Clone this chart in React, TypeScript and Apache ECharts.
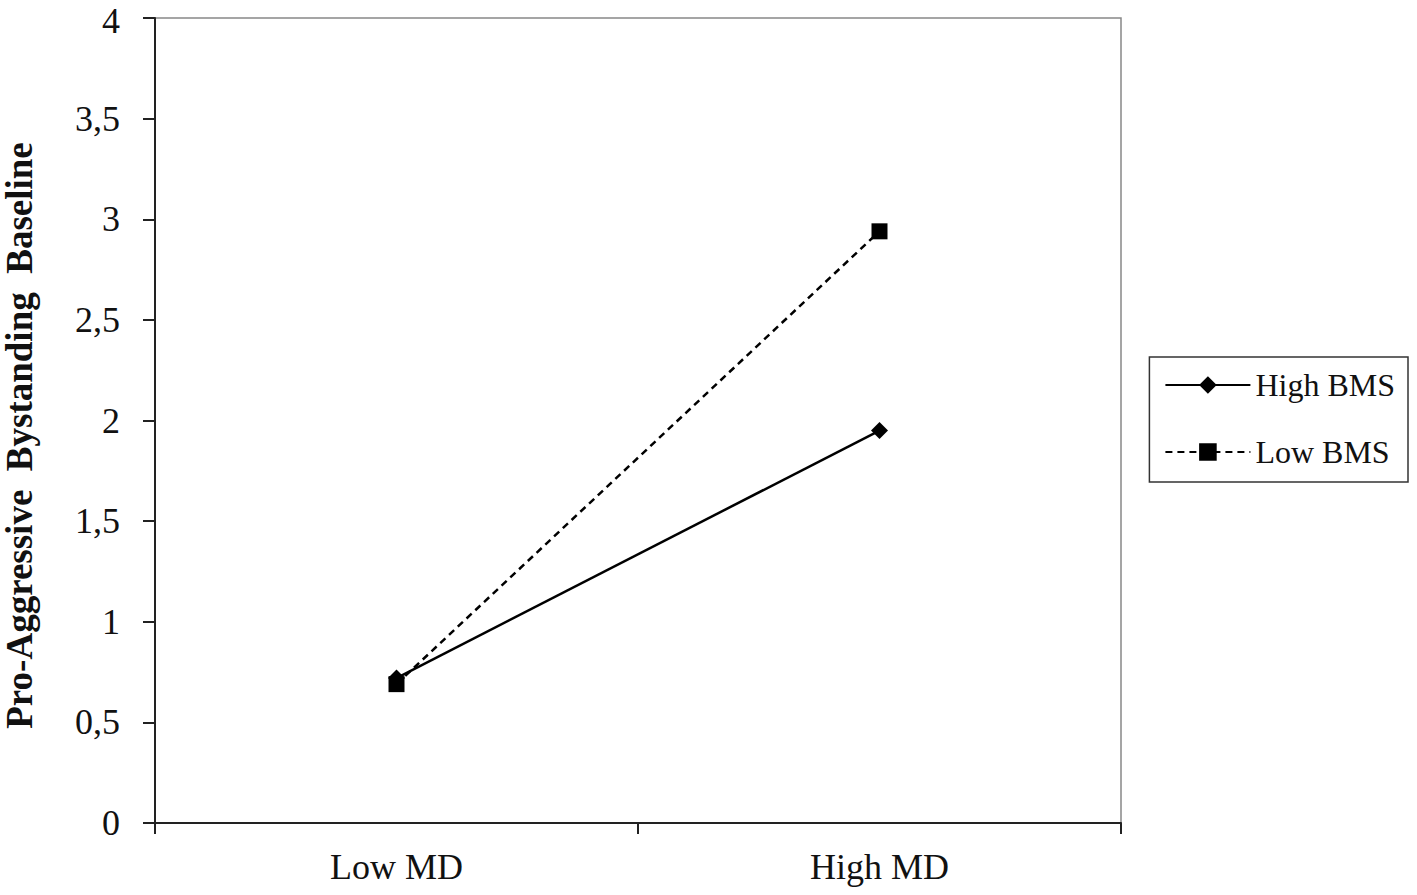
import React, { useEffect, useRef } from "react";
import * as echarts from "echarts";

const categories = ["Low MD", "High MD"];
const highBMS = [0.72, 1.95];
const lowBMS = [0.69, 2.94];
const yTicks = { min: 0, max: 4, interval: 0.5 };

export default function App() {
  const ref = useRef<HTMLDivElement>(null);
  useEffect(() => {
    document.body.style.margin = "0";
    const chart = echarts.init(ref.current!, undefined, { renderer: "svg" });
    const font = "'Liberation Serif', 'Times New Roman', serif";
    chart.setOption({
      animation: false,
      backgroundColor: "#fff",
      textStyle: { fontFamily: font },
      grid: {
        left: 155,
        right: 296,
        top: 18,
        bottom: 72,
        containLabel: false,
        outerBoundsMode: "none",
        show: true,
        borderColor: "#888",
        borderWidth: 1.5,
        backgroundColor: "transparent",
      },
      legend: {
        orient: "vertical",
        right: 9,
        top: 357,
        padding: [12, 13, 14, 15],
        borderColor: "#333",
        borderWidth: 1.5,
        itemWidth: 85,
        itemHeight: 22,
        itemGap: 35,
        textStyle: { fontSize: 32, fontFamily: font, color: "#111" },
        data: ["High BMS", "Low BMS"],
      },
      xAxis: {
        type: "category",
        data: categories,
        boundaryGap: true,
        axisLine: { lineStyle: { color: "#222", width: 2 } },
        axisTick: { show: true, length: 11, lineStyle: { color: "#222", width: 2 } },
        axisLabel: { fontSize: 36, color: "#111", margin: 26, fontFamily: font },
        splitLine: { show: false },
      },
      yAxis: {
        type: "value",
        min: yTicks.min,
        max: yTicks.max,
        interval: yTicks.interval,
        name: "Pro-Aggressive  Bystanding  Baseline",
        nameLocation: "middle",
        nameGap: 117,
        nameRotate: 90,
        nameTextStyle: {
          fontSize: 37,
          fontWeight: "bold",
          color: "#111",
          fontFamily: font,
          padding: [0, 30, 0, 0],
        },
        axisLine: { show: true, lineStyle: { color: "#222", width: 2 } },
        axisTick: { show: true, length: 12, lineStyle: { color: "#222", width: 2 } },
        axisLabel: {
          fontSize: 36,
          lineHeight: 30,
          color: "#111",
          margin: 35,
          fontFamily: font,
          formatter: (v: number) => {
            const s = String(v).replace(".", ",");
            return v === yTicks.max ? "{t|" + s + "}" : s;
          },
          rich: {
            t: { fontSize: 36, lineHeight: 30, fontFamily: font, color: "#111", padding: [6, 0, 0, 0] },
          },
        },
        splitLine: { show: false },
      },
      series: [
        {
          name: "High BMS",
          type: "line",
          data: highBMS,
          symbol: "diamond",
          symbolSize: 17,
          itemStyle: { color: "#000" },
          lineStyle: { color: "#000", width: 2.5, type: "solid" },
          z: 2,
        },
        {
          name: "Low BMS",
          type: "line",
          data: lowBMS,
          symbol: "rect",
          symbolSize: 16,
          itemStyle: { color: "#000" },
          lineStyle: { color: "#000", width: 2.5, type: [7, 5] },
          z: 3,
        },
      ],
    });
    return () => chart.dispose();
  }, []);
  return (
    <div
      ref={ref}
      style={{ position: "absolute", left: 0, top: 0, width: 1417, height: 895 }}
    />
  );
}
